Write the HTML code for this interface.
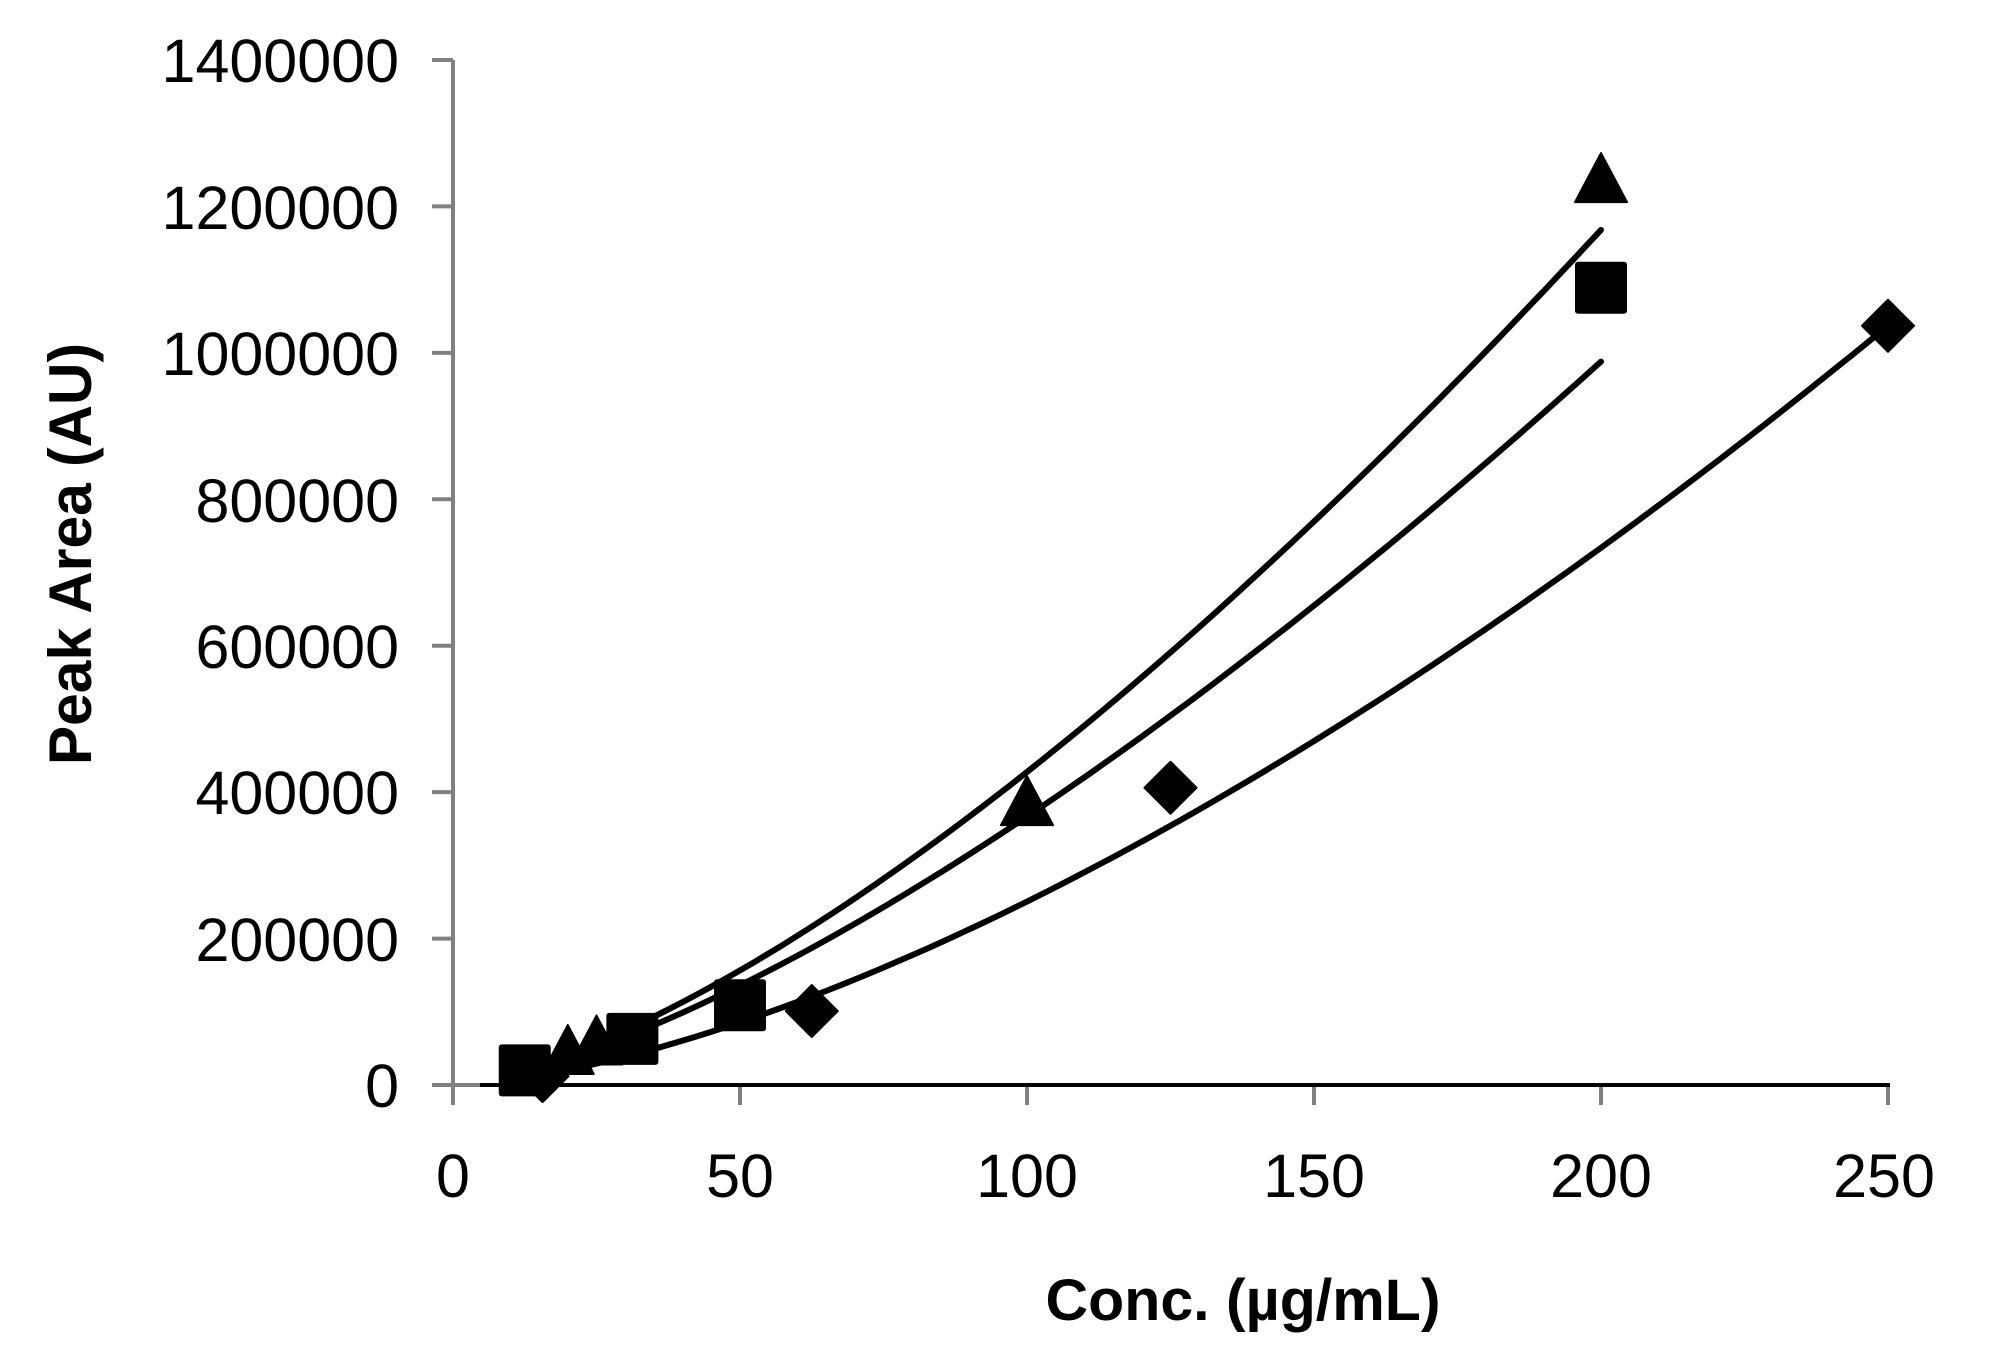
<!DOCTYPE html>
<html><head><meta charset="utf-8"><style>html,body{margin:0;padding:0;background:#fff}svg{display:block}</style></head>
<body>
<svg id="s" width="1989" height="1358" viewBox="0 0 1989 1358" xmlns="http://www.w3.org/2000/svg" font-family="Liberation Sans, sans-serif">
<rect width="1989" height="1358" fill="#fff"/>
<g fill="#000" font-size="61" text-anchor="end">
<text x="399" y="1107">0</text>
<text x="399" y="961">200000</text>
<text x="399" y="814">400000</text>
<text x="399" y="668">600000</text>
<text x="399" y="522">800000</text>
<text x="399" y="375">1000000</text>
<text x="399" y="229">1200000</text>
<text x="399" y="82">1400000</text>
</g>
<g fill="#000" font-size="61" text-anchor="middle">
<text x="453" y="1197">0</text>
<text x="740" y="1197">50</text>
<text x="1027" y="1197">100</text>
<text x="1314" y="1197">150</text>
<text x="1601" y="1197">200</text>
<text x="1884" y="1197">250</text>
</g>
<text x="1243" y="1320" font-size="58" font-weight="bold" text-anchor="middle" textLength="395" lengthAdjust="spacingAndGlyphs">Conc. (µg/mL)</text>
<text transform="translate(91,554) rotate(-90)" font-size="60" font-weight="bold" text-anchor="middle" textLength="422" lengthAdjust="spacingAndGlyphs">Peak Area (AU)</text>
<g id="axes" stroke="#808080" stroke-width="4"></g>
<g id="plot"></g>
</svg>
<script>
var NS="http://www.w3.org/2000/svg";
function X(v){return 453+v*5.74;}
function Y(v){return 1085-v*1025/1400000;}
function el(p,t,a){var e=document.createElementNS(NS,t);for(var k in a)e.setAttribute(k,a[k]);p.appendChild(e);return e;}
var ax=document.getElementById('axes'),pl=document.getElementById('plot');
el(ax,'line',{x1:453,y1:60,x2:453,y2:1105});
for(var i=0;i<=7;i++){var y=Y(i*200000);el(ax,'line',{x1:432,y1:y,x2:453,y2:y});}
el(ax,'line',{x1:432,y1:1085,x2:1888,y2:1085});
for(var i=0;i<=5;i++){var x=X(i*50);el(ax,'line',{x1:x,y1:1085,x2:x,y2:1105});}
el(pl,'line',{x1:480,y1:1085,x2:1890,y2:1085,stroke:'#000','stroke-width':4});
function curve(a,b,x0,x1){var pts=[];for(var v=x0;v<=x1+0.01;v+=(x1-x0)/80){pts.push(X(v).toFixed(1)+','+Y(a*Math.pow(v,b)).toFixed(1));}
el(pl,'polyline',{points:pts.join(' '),fill:'none',stroke:'#000','stroke-width':6,'stroke-linecap':'round'});}
curve(1168000/Math.pow(200,1.45),1.45,12.5,200);
curve(988000/Math.pow(200,1.43),1.43,12.5,200);
curve(1037000/Math.pow(250,1.55),1.55,15.6,250);
function tri(v,w){var x=X(v),y=Y(w);el(pl,'polygon',{points:(x)+','+(y-27)+' '+(x-26)+','+(y+22)+' '+(x+26)+','+(y+22),fill:'#000','stroke':'#000','stroke-width':2,'stroke-linejoin':'round'});}
function sq(v,w){var x=X(v),y=Y(w);el(pl,'rect',{x:x-26,y:y-26,width:52,height:52,rx:3,fill:'#000'});}
function dia(v,w){var x=X(v),y=Y(w);el(pl,'polygon',{points:x+','+(y-26)+' '+(x+26)+','+y+' '+x+','+(y+26)+' '+(x-26)+','+y,fill:'#000','stroke':'#000','stroke-width':2,'stroke-linejoin':'round'});}
dia(15.6,12000);dia(62.5,101000);dia(125,406000);dia(250,1037000);
tri(20,45000);tri(25,58000);tri(100,385000);tri(200,1236000);
sq(12.5,20000);sq(31.25,63000);sq(50,109000);sq(200,1089000);
</script>
</body></html>
